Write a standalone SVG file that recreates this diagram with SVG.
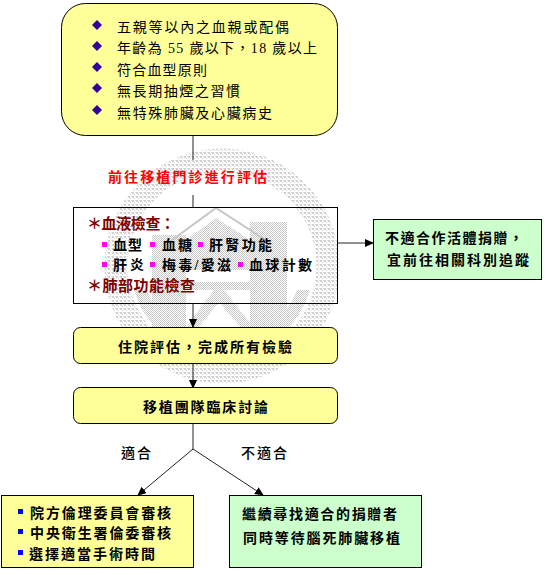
<svg xmlns="http://www.w3.org/2000/svg" width="550" height="575" viewBox="0 0 550 575">
<style>
text{font-family:"Liberation Serif","Noto Sans CJK TC",serif;font-size:14px;fill:#000}
.b{font-weight:700}
.m{font-weight:500}
.r{fill:#800000;font-weight:700;font-size:15px}
.l{fill:none;stroke:#222;stroke-width:1}
.y{fill:#ffff99;stroke:#000}
.g{fill:#ccffcc;stroke:#000}
</style>
<defs>
<marker id="a" markerWidth="9" markerHeight="8" refX="8" refY="4" orient="auto" markerUnits="userSpaceOnUse"><path d="M0 0L9 4L0 8z" fill="#000"/></marker>
<pattern id="d" width="2" height="2" patternUnits="userSpaceOnUse"><rect width="1" height="1" fill="#c6c6c6"/><rect x="1" y="1" width="1" height="1" fill="#c6c6c6"/></pattern>
<pattern id="e" width="4" height="4" patternUnits="userSpaceOnUse"><rect width="2" height="2" fill="#d0d0d0"/><rect x="2" y="2" width="1" height="1" fill="#d0d0d0"/><rect x="3" width="1" height="1" fill="#e0e0e0"/></pattern>
</defs>
<g id="watermark">
<circle cx="222" cy="266" r="106" fill="none" stroke="url(#e)" stroke-width="23"/>
<path d="M134 290A90 90 0 0 0 200 353L204 340A78 78 0 0 1 147 290z" fill="url(#d)"/>
<path d="M310 290A90 90 0 0 1 244 353L240 340A78 78 0 0 0 297 290z" fill="url(#d)"/>
<path d="M152 235H186V330H152zM250 222H287V330H250z" fill="url(#d)"/>
<path d="M186 240L216 218L250 240V270H186z" fill="url(#d)"/>
<path d="M168 243L216 208L270 243" fill="none" stroke="#c6c6c6" stroke-width="2"/>
<path d="M190 282H250V290H190zM214 290H224L262 338H250L219 302L190 338H178z" fill="url(#d)"/>
</g>
<g id="connectors">
<path class="l" d="M193 135V160"/>
<path class="l" d="M193 195V208"/>
<path class="l" marker-end="url(#a)" d="M193 303V327"/>
<path class="l" marker-end="url(#a)" d="M193 364V388"/>
<path class="l" d="M193 424V449"/>
<path class="l" marker-end="url(#a)" d="M193 449L138 495"/>
<path class="l" marker-end="url(#a)" d="M193 449L263 495"/>
<path class="l" marker-end="url(#a)" d="M338 243H373"/>
</g>
<g id="n1">
<rect class="y" x="61.500" y="3.500" width="276" height="132" rx="24"/>
<g fill="#330099"><path d="M97 20l5 5-5 5-5-5z"/><path d="M97 41l5 5-5 5-5-5z"/><path d="M97 62l5 5-5 5-5-5z"/><path d="M97 83l5 5-5 5-5-5z"/><path d="M97 105l5 5-5 5-5-5z"/></g>
<text x="117" y="32" textLength="172">五親等以內之血親或配偶</text>
<text x="117" y="53" textLength="200">年齡為 55 歲以下，18 歲以上</text>
<text x="117" y="75" textLength="90">符合血型原則</text>
<text x="117" y="96" textLength="123">無長期抽煙之習慣</text>
<text x="117" y="118" textLength="155">無特殊肺臟及心臟病史</text>
</g>
<g id="label1"><text x="108" y="182" class="b" style="fill:#f00" textLength="159">前往移植門診進行評估</text></g>
<g id="n2">
<rect x="73.500" y="207.500" width="264" height="96" fill="none" stroke="#000"/>
<text x="87" y="229" class="r" textLength="88">＊血液檢查：</text>
<g fill="#ff00ff"><rect x="102" y="242" width="5" height="5"/><rect x="150" y="242" width="5" height="5"/><rect x="198" y="242" width="5" height="5"/><rect x="102" y="262" width="5" height="5"/><rect x="150" y="262" width="5" height="5"/><rect x="238" y="262" width="5" height="5"/></g>
<text x="113" y="250" class="b" textLength="29">血型</text>
<text x="162" y="250" class="b" textLength="30">血糖</text>
<text x="209" y="250" class="b" textLength="63">肝腎功能</text>
<text x="113" y="270" class="b" textLength="31">肝炎</text>
<text x="162" y="270" class="b" textLength="69">梅毒/愛滋</text>
<text x="249" y="270" class="b" textLength="63">血球計數</text>
<text x="87" y="291" class="r" textLength="108">＊肺部功能檢查</text>
</g>
<g id="n3">
<rect class="y" x="73.500" y="327.500" width="264" height="36" rx="7"/>
<text x="118" y="352" class="b" textLength="174">住院評估，完成所有檢驗</text>
</g>
<g id="n4">
<rect class="y" x="73.500" y="387.500" width="264" height="36" rx="7"/>
<text x="143" y="412" class="b" textLength="125">移植團隊臨床討論</text>
</g>
<g id="n5">
<rect class="g" x="373.500" y="219.500" width="168" height="60"/>
<text x="385" y="243" class="b" textLength="138">不適合作活體捐贈，</text>
<text x="387" y="265" class="b" textLength="142">宜前往相關科別追蹤</text>
</g>
<g id="n6">
<rect class="y" x="1.500" y="495.500" width="192" height="72"/>
<g fill="#0000ff"><rect x="18" y="509" width="5" height="5"/><rect x="18" y="529" width="5" height="5"/><rect x="18" y="550" width="5" height="5"/></g>
<text x="30" y="518" class="b" textLength="141">院方倫理委員會審核</text>
<text x="30" y="538" class="b" textLength="141">中央衛生署倫委審核</text>
<text x="29" y="559" class="b" textLength="126">選擇適當手術時間</text>
</g>
<g id="n7">
<rect class="g" x="229.500" y="495.500" width="192" height="72"/>
<text x="242" y="519" class="b" textLength="155">繼續尋找適合的捐贈者</text>
<text x="243" y="543" class="b" textLength="157">同時等待腦死肺臟移植</text>
</g>
<g id="labels">
<text x="121" y="458" class="m" textLength="30">適合</text>
<text x="241" y="458" class="m" textLength="46">不適合</text>
</g>
</svg>
